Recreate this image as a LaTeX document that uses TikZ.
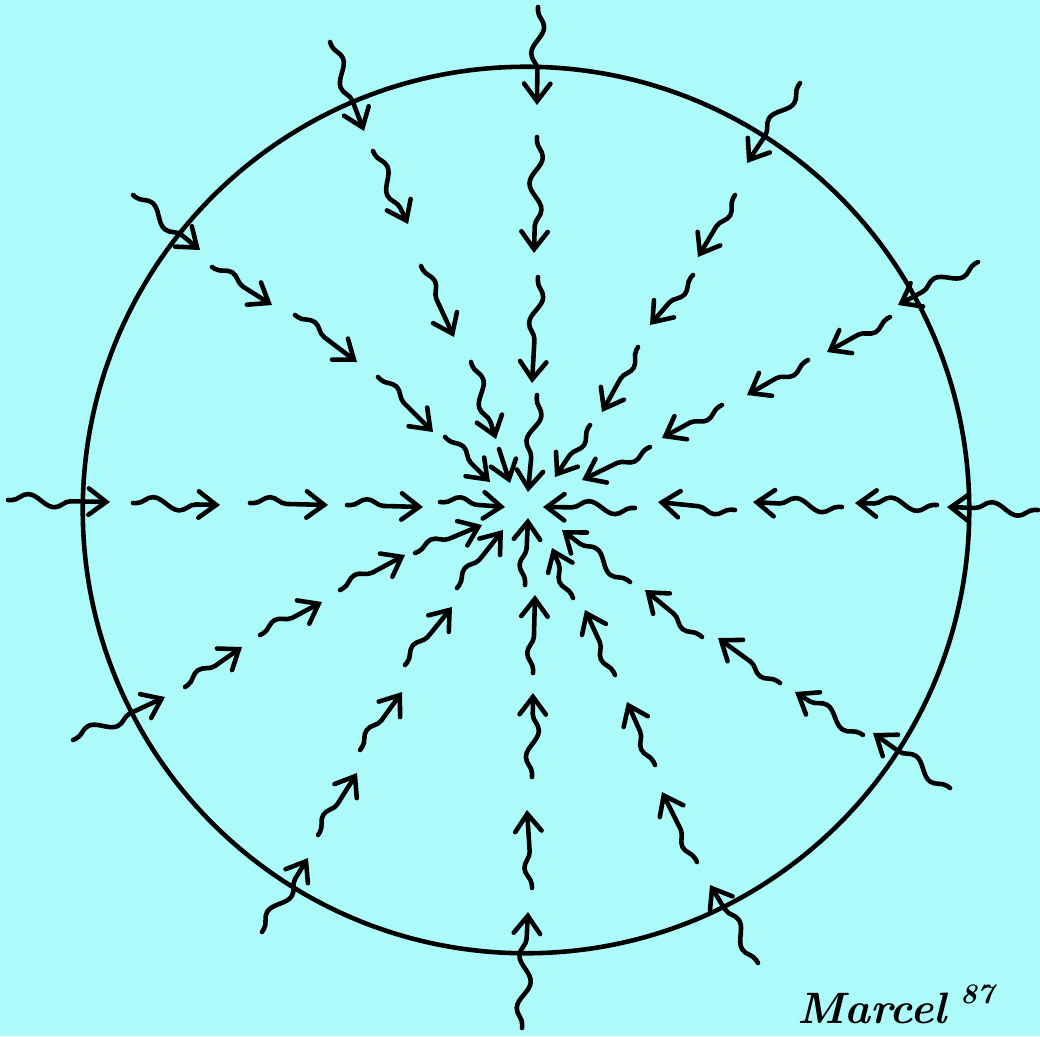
\documentclass[tikz,border=0pt]{standalone}
\usetikzlibrary{decorations.pathmorphing,arrows.meta}
\definecolor{bgcyan}{RGB}{173,250,250}
\begin{document}
\begin{tikzpicture}[x=0.01cm,y=-0.01cm,
  wave/.style={line width=1.3pt, line cap=round, line join=round,
    decorate, decoration={snake, segment length=15pt, amplitude=1.8pt, pre length=1pt, post length=5pt},
    -{Straight Barb[length=5pt,width=7.5pt,line cap=round]}},
  rim/.style={line width=1.3pt}]
\fill[bgcyan] (0,0) rectangle (1040,1036);
\useasboundingbox (0,0) rectangle (1040,1036);
\coordinate (ctr) at (526,510);
\draw[rim] (ctr) circle [radius=4.43cm];
\foreach \sx/\sy/\tx/\ty [count=\i] in {
  538/7/537/105, 537/137/534/253, 538/277/532/383, 537/395/528/492,
  330/42/364/131, 373/151/408/224, 421/266/454/337, 471/362/496/439, 499/449/510/483,
  133/195/200/250, 212/267/272/305, 295/315/357/362, 378/377/433/432, 445/437/490/482,
  8/500/110/502, 133/503/220/505, 250/503/328/505, 347/505/423/507, 440/502/505/507,
  73/740/165/697, 185/687/242/647, 260/635/322/602, 340/590/405/555, 415/553/482/525,
  262/932/308/858, 318/835/357/773, 360/750/402/692, 405/665/452/607, 457/588/503/530,
  522/1028/528/912, 532/888/527/810, 532/777/533/693, 533/673/535/595, 525/585/528/518,
  758/963/710/885, 697/862/662/792, 655/765/627/702, 615/675/585/610, 573/598/552/548,
  950/788/873/733, 863/735/795/692, 780/683/718/638, 702/637/645/590, 630/582/562/530,
  1038/510/947/507, 937/505/855/503, 842/507/753/502, 735/510/658/502, 635/508/543/507,
  978/262/898/305, 890/317/827/352, 808/360/747/395, 722/405/662/438, 650/447/582/480,
  800/83/747/163, 735/195/698/257, 693/275/650/325, 638/347/602/412, 590/425/555/477}
{
  \coordinate (s\i) at (\sx,\sy);
  \coordinate (t\i) at (\tx,\ty);
  \draw[wave] (s\i) -- (t\i);
}
\node[font=\fontsize{12.5}{14}\selectfont\bfseries\itshape] (sig) at (872,1008) {Marcel};
\node[font=\fontsize{8}{9}\selectfont\bfseries\itshape] (yr) at (977,994) {87};
\end{tikzpicture}
\end{document}
